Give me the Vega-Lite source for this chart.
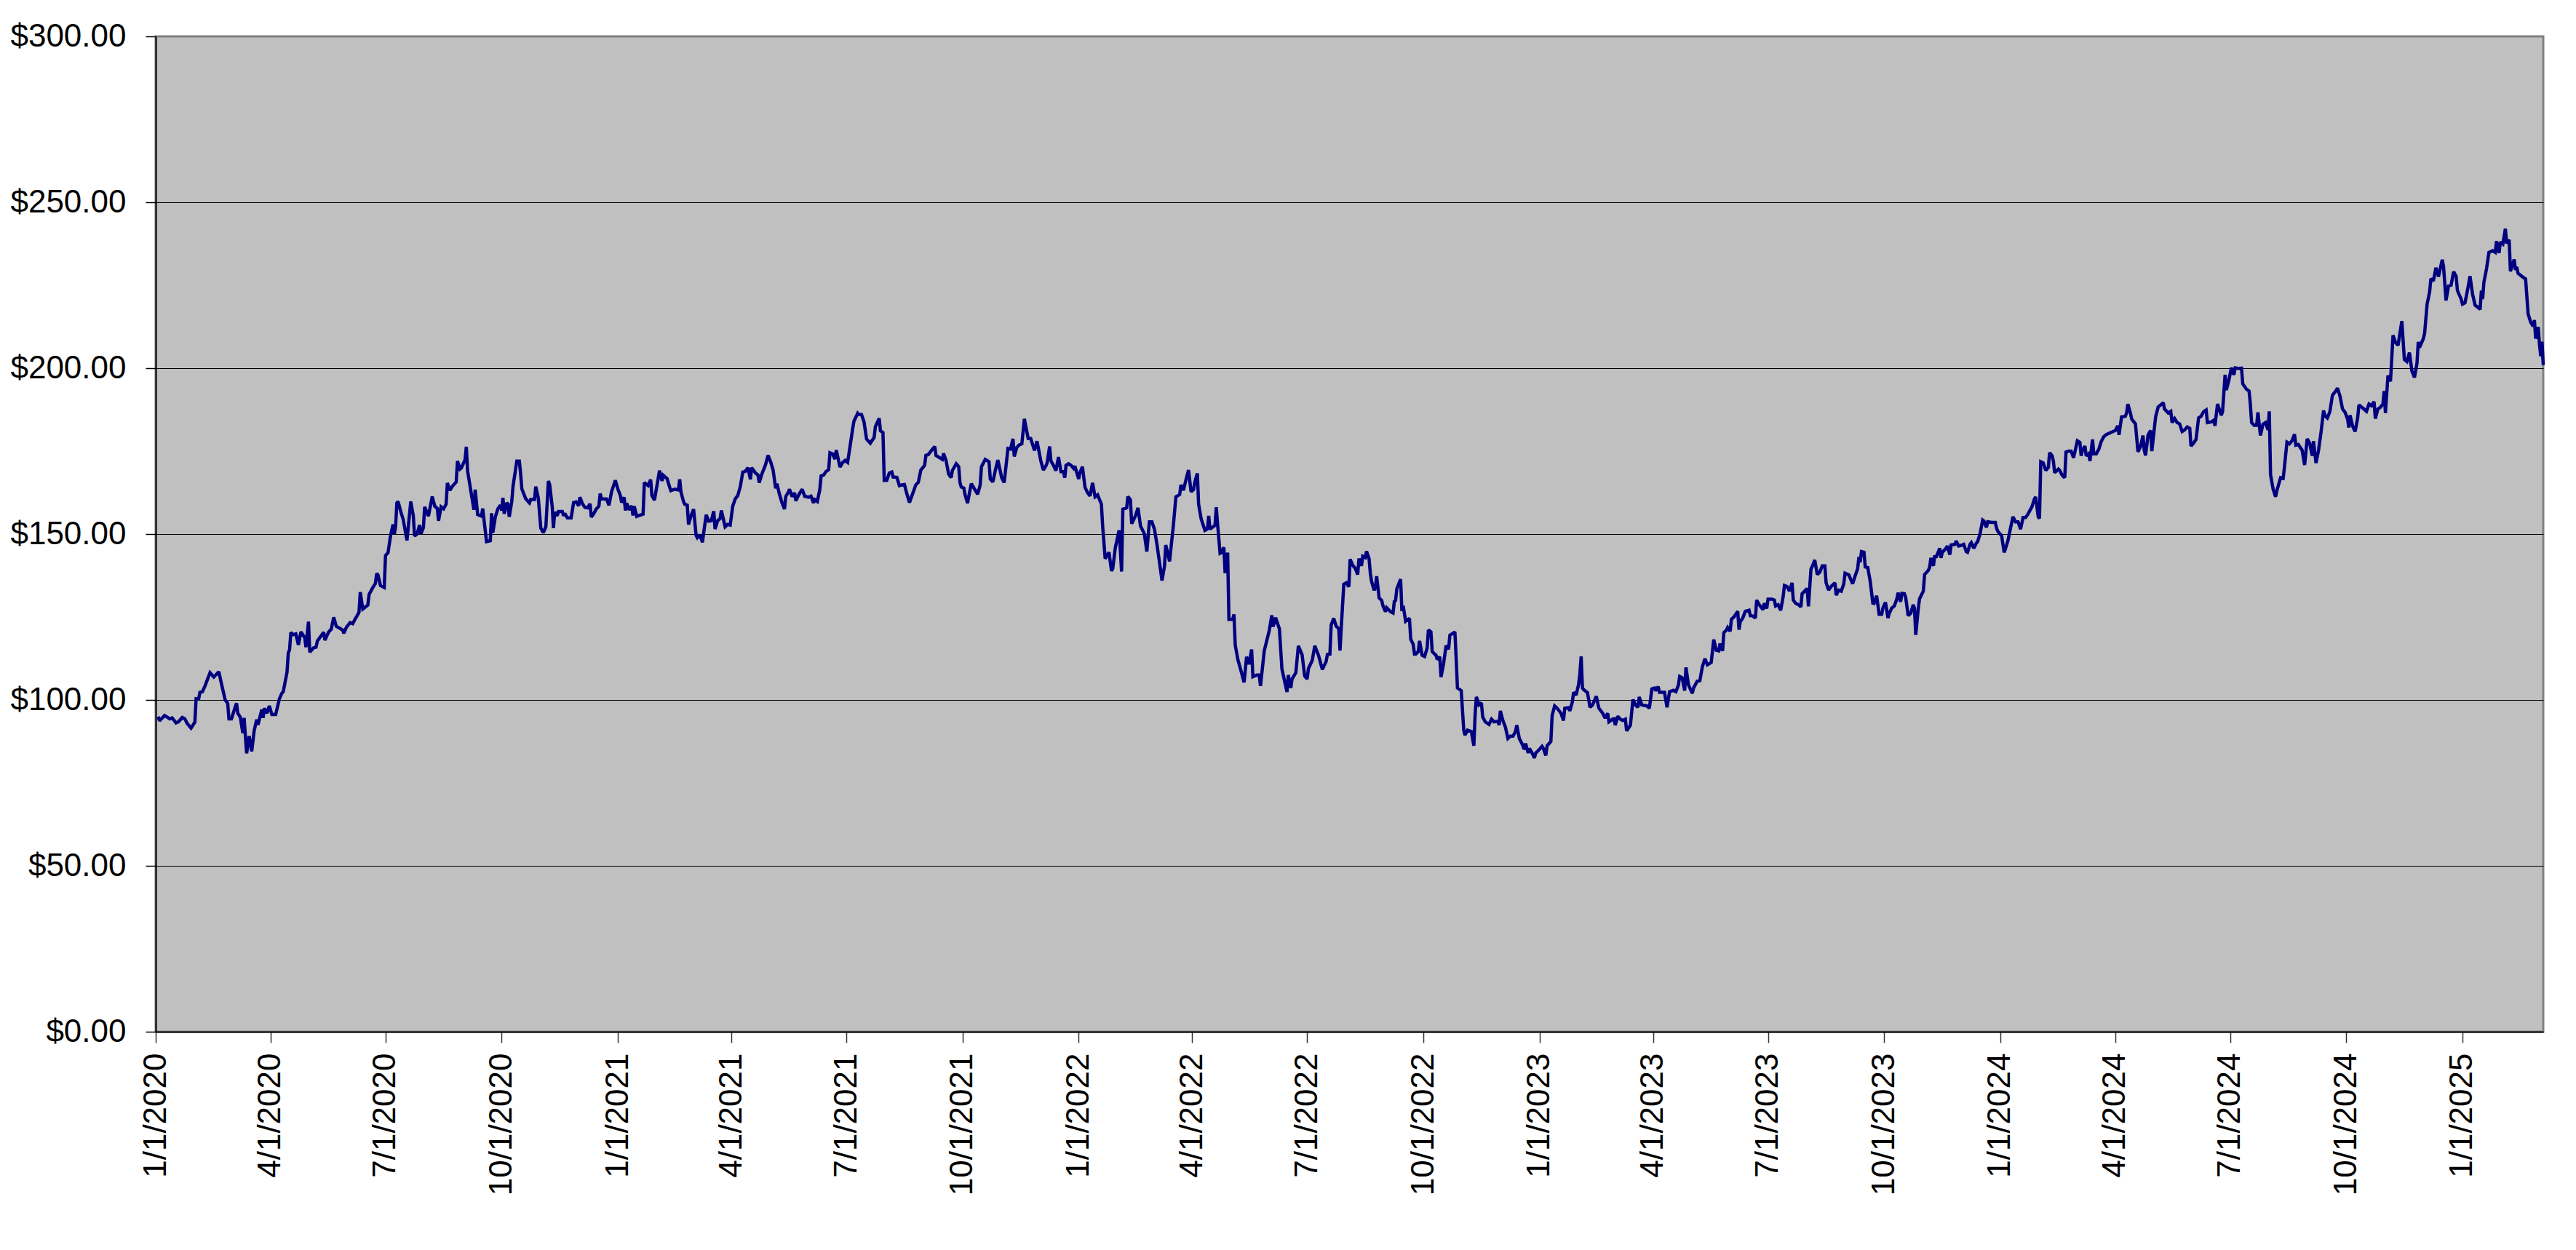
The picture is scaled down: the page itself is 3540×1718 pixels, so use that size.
{
"$schema": "https://vega.github.io/schema/vega-lite/v6.json",
"width": 3281, "height": 1368,
"autosize": {"type": "none"},
"padding": {"left": 214, "top": 50, "right": 45, "bottom": 300},
"background": "#ffffff",
"config": {"font": "Liberation Sans", "view": {"fill": "#C0C0C0", "stroke": "#808080", "strokeWidth": 3}},
"data": {"format": {"parse": {"d": "date:'%Y-%j'"}}, "values": [
{"d":"2020-003","p":95.0},{"d":"2020-004","p":93.7},{"d":"2020-008","p":95.3},{"d":"2020-011","p":94.6},{"d":"2020-012","p":94.3},{"d":"2020-014","p":94.6},{"d":"2020-016","p":93.6},{"d":"2020-017","p":93.1},{"d":"2020-019","p":93.4},{"d":"2020-022","p":94.7},{"d":"2020-024","p":94.3},{"d":"2020-026","p":92.9},{"d":"2020-029","p":91.5},{"d":"2020-032","p":93.3},{"d":"2020-033","p":100.4},{"d":"2020-035","p":100.3},{"d":"2020-036","p":102.3},{"d":"2020-038","p":102.5},{"d":"2020-040","p":104.2},{"d":"2020-044","p":108.2},{"d":"2020-047","p":106.9},{"d":"2020-051","p":108.5},{"d":"2020-053","p":105.0},{"d":"2020-056","p":100.0},{"d":"2020-058","p":99.0},{"d":"2020-059","p":94.3},{"d":"2020-061","p":94.3},{"d":"2020-064","p":97.9},{"d":"2020-065","p":99.0},{"d":"2020-066","p":96.0},{"d":"2020-068","p":94.8},{"d":"2020-070","p":90.0},{"d":"2020-071","p":94.6},{"d":"2020-073","p":83.9},{"d":"2020-075","p":89.1},{"d":"2020-077","p":84.5},{"d":"2020-079","p":90.8},{"d":"2020-081","p":94.1},{"d":"2020-082","p":92.5},{"d":"2020-085","p":97.1},{"d":"2020-086","p":94.6},{"d":"2020-087","p":97.5},{"d":"2020-089","p":96.0},{"d":"2020-091","p":98.2},{"d":"2020-093","p":95.6},{"d":"2020-096","p":95.6},{"d":"2020-099","p":100.4},{"d":"2020-101","p":102.1},{"d":"2020-102","p":102.5},{"d":"2020-105","p":108.4},{"d":"2020-106","p":114.2},{"d":"2020-107","p":115.1},{"d":"2020-108","p":120.3},{"d":"2020-110","p":119.7},{"d":"2020-112","p":119.9},{"d":"2020-114","p":116.6},{"d":"2020-116","p":120.5},{"d":"2020-119","p":118.8},{"d":"2020-120","p":115.9},{"d":"2020-122","p":123.6},{"d":"2020-123","p":114.4},{"d":"2020-126","p":115.7},{"d":"2020-128","p":115.9},{"d":"2020-129","p":117.7},{"d":"2020-134","p":120.4},{"d":"2020-135","p":118.0},{"d":"2020-137","p":119.7},{"d":"2020-138","p":120.5},{"d":"2020-140","p":121.3},{"d":"2020-142","p":124.9},{"d":"2020-144","p":122.2},{"d":"2020-149","p":121.1},{"d":"2020-150","p":120.1},{"d":"2020-152","p":121.9},{"d":"2020-155","p":123.3},{"d":"2020-157","p":123.0},{"d":"2020-159","p":124.4},{"d":"2020-162","p":126.4},{"d":"2020-163","p":132.5},{"d":"2020-165","p":127.4},{"d":"2020-169","p":128.6},{"d":"2020-170","p":131.8},{"d":"2020-173","p":133.9},{"d":"2020-175","p":135.1},{"d":"2020-176","p":138.1},{"d":"2020-177","p":137.7},{"d":"2020-179","p":134.5},{"d":"2020-182","p":133.9},{"d":"2020-183","p":143.5},{"d":"2020-185","p":144.4},{"d":"2020-187","p":149.5},{"d":"2020-189","p":152.9},{"d":"2020-190","p":150.0},{"d":"2020-191","p":152.3},{"d":"2020-192","p":159.4},{"d":"2020-193","p":159.8},{"d":"2020-195","p":156.9},{"d":"2020-197","p":154.4},{"d":"2020-200","p":148.1},{"d":"2020-203","p":159.8},{"d":"2020-205","p":155.6},{"d":"2020-206","p":149.4},{"d":"2020-208","p":150.0},{"d":"2020-210","p":152.7},{"d":"2020-211","p":150.0},{"d":"2020-213","p":151.9},{"d":"2020-214","p":158.2},{"d":"2020-217","p":155.4},{"d":"2020-220","p":161.3},{"d":"2020-222","p":158.4},{"d":"2020-224","p":157.7},{"d":"2020-225","p":154.0},{"d":"2020-227","p":158.2},{"d":"2020-229","p":157.6},{"d":"2020-231","p":159.0},{"d":"2020-232","p":165.4},{"d":"2020-234","p":163.2},{"d":"2020-236","p":164.4},{"d":"2020-239","p":165.7},{"d":"2020-240","p":172.0},{"d":"2020-242","p":169.6},{"d":"2020-243","p":169.9},{"d":"2020-246","p":172.4},{"d":"2020-247","p":176.3},{"d":"2020-248","p":169.0},{"d":"2020-250","p":164.4},{"d":"2020-253","p":157.3},{"d":"2020-254","p":163.4},{"d":"2020-256","p":155.9},{"d":"2020-259","p":155.4},{"d":"2020-260","p":157.7},{"d":"2020-263","p":147.7},{"d":"2020-266","p":148.0},{"d":"2020-267","p":156.3},{"d":"2020-268","p":150.4},{"d":"2020-270","p":155.2},{"d":"2020-272","p":157.6},{"d":"2020-274","p":158.7},{"d":"2020-275","p":157.1},{"d":"2020-276","p":160.9},{"d":"2020-277","p":156.1},{"d":"2020-279","p":159.4},{"d":"2020-280","p":159.0},{"d":"2020-281","p":155.2},{"d":"2020-283","p":159.8},{"d":"2020-284","p":164.4},{"d":"2020-287","p":172.0},{"d":"2020-289","p":172.0},{"d":"2020-290","p":168.2},{"d":"2020-291","p":163.6},{"d":"2020-294","p":160.7},{"d":"2020-297","p":159.4},{"d":"2020-298","p":160.4},{"d":"2020-301","p":160.4},{"d":"2020-302","p":164.3},
{"d":"2020-304","p":160.9},{"d":"2020-306","p":151.8},{"d":"2020-308","p":150.4},{"d":"2020-310","p":152.2},{"d":"2020-312","p":166.0},{"d":"2020-313","p":164.9},{"d":"2020-315","p":158.4},{"d":"2020-316","p":151.8},{"d":"2020-317","p":156.6},{"d":"2020-319","p":155.5},{"d":"2020-320","p":156.8},{"d":"2020-323","p":156.8},{"d":"2020-324","p":155.5},{"d":"2020-325","p":156.2},{"d":"2020-327","p":154.9},{"d":"2020-330","p":154.9},{"d":"2020-332","p":159.5},{"d":"2020-334","p":159.7},{"d":"2020-336","p":158.5},{"d":"2020-337","p":161.1},{"d":"2020-339","p":159.1},{"d":"2020-341","p":158.0},{"d":"2020-343","p":157.9},{"d":"2020-345","p":159.1},{"d":"2020-346","p":155.1},{"d":"2020-348","p":156.2},{"d":"2020-350","p":157.6},{"d":"2020-352","p":158.4},{"d":"2020-353","p":162.2},{"d":"2020-354","p":160.6},{"d":"2020-358","p":160.6},{"d":"2020-360","p":158.7},{"d":"2020-362","p":162.7},{"d":"2020-365","p":166.2},
{"d":"2021-001","p":163.6},{"d":"2021-003","p":161.6},{"d":"2021-004","p":159.5},{"d":"2021-006","p":161.1},{"d":"2021-007","p":157.1},{"d":"2021-008","p":159.3},{"d":"2021-010","p":157.3},{"d":"2021-012","p":158.5},{"d":"2021-013","p":155.6},{"d":"2021-014","p":158.4},{"d":"2021-016","p":155.3},{"d":"2021-018","p":155.6},{"d":"2021-021","p":156.0},{"d":"2021-022","p":165.5},{"d":"2021-025","p":164.6},{"d":"2021-027","p":166.4},{"d":"2021-028","p":161.6},{"d":"2021-030","p":160.2},{"d":"2021-032","p":164.6},{"d":"2021-034","p":169.1},{"d":"2021-036","p":166.0},{"d":"2021-037","p":167.7},{"d":"2021-040","p":166.7},{"d":"2021-042","p":164.2},{"d":"2021-043","p":163.1},{"d":"2021-046","p":163.5},{"d":"2021-049","p":163.3},{"d":"2021-050","p":166.5},{"d":"2021-051","p":162.7},{"d":"2021-053","p":159.8},{"d":"2021-054","p":159.0},{"d":"2021-056","p":158.7},{"d":"2021-057","p":152.9},{"d":"2021-059","p":155.5},{"d":"2021-061","p":157.5},{"d":"2021-063","p":149.6},{"d":"2021-064","p":148.9},{"d":"2021-066","p":149.8},{"d":"2021-068","p":147.5},{"d":"2021-070","p":153.1},{"d":"2021-071","p":155.8},{"d":"2021-073","p":153.9},{"d":"2021-075","p":154.0},{"d":"2021-077","p":156.9},{"d":"2021-078","p":151.5},{"d":"2021-080","p":154.0},{"d":"2021-082","p":154.7},{"d":"2021-083","p":157.1},{"d":"2021-086","p":152.2},{"d":"2021-088","p":152.9},{"d":"2021-090","p":152.7},{"d":"2021-092","p":158.4},{"d":"2021-094","p":160.6},{"d":"2021-096","p":161.6},{"d":"2021-098","p":164.3},{"d":"2021-100","p":168.7},{"d":"2021-102","p":168.9},{"d":"2021-104","p":170.0},{"d":"2021-106","p":166.5},{"d":"2021-107","p":170.0},{"d":"2021-110","p":168.4},{"d":"2021-112","p":167.8},{"d":"2021-113","p":165.5},{"d":"2021-115","p":168.0},{"d":"2021-118","p":170.9},{"d":"2021-120","p":173.7},{"d":"2021-122","p":171.8},{"d":"2021-124","p":169.3},{"d":"2021-126","p":163.8},{"d":"2021-127","p":165.2},{"d":"2021-129","p":162.0},{"d":"2021-131","p":159.5},{"d":"2021-133","p":157.5},{"d":"2021-134","p":161.3},{"d":"2021-136","p":162.6},{"d":"2021-137","p":163.5},{"d":"2021-139","p":161.3},{"d":"2021-141","p":162.4},{"d":"2021-142","p":160.0},{"d":"2021-144","p":161.6},{"d":"2021-146","p":162.9},{"d":"2021-147","p":163.5},{"d":"2021-149","p":161.4},{"d":"2021-152","p":161.1},{"d":"2021-154","p":161.4},{"d":"2021-156","p":159.4},{"d":"2021-157","p":160.4},{"d":"2021-159","p":159.8},{"d":"2021-161","p":163.5},{"d":"2021-162","p":167.5},{"d":"2021-164","p":167.8},{"d":"2021-166","p":168.9},{"d":"2021-168","p":169.4},{"d":"2021-169","p":174.5},{"d":"2021-171","p":174.2},{"d":"2021-173","p":172.6},{"d":"2021-174","p":175.3},{"d":"2021-177","p":170.2},{"d":"2021-179","p":171.5},{"d":"2021-181","p":172.2},{"d":"2021-183","p":171.6},{"d":"2021-185","p":176.6},{"d":"2021-187","p":181.7},{"d":"2021-188","p":184.0},{"d":"2021-191","p":186.4},{"d":"2021-192","p":186.0},{"d":"2021-194","p":186.0},{"d":"2021-196","p":183.8},{"d":"2021-198","p":178.6},{"d":"2021-201","p":177.4},{"d":"2021-204","p":179.1},{"d":"2021-205","p":182.4},{"d":"2021-208","p":184.9},{"d":"2021-209","p":181.1},{"d":"2021-211","p":180.6},{"d":"2021-212","p":166.2},{"d":"2021-214","p":166.2},{"d":"2021-216","p":168.4},{"d":"2021-218","p":168.7},{"d":"2021-219","p":167.2},{"d":"2021-222","p":167.1},{"d":"2021-224","p":164.6},{"d":"2021-226","p":164.8},{"d":"2021-228","p":164.9},{"d":"2021-230","p":162.0},{"d":"2021-232","p":159.5},{"d":"2021-234","p":161.6},{"d":"2021-237","p":164.8},{"d":"2021-239","p":165.6},{"d":"2021-241","p":169.3},{"d":"2021-244","p":170.7},{"d":"2021-245","p":173.7},{"d":"2021-247","p":174.0},
{"d":"2021-249","p":175.0},{"d":"2021-252","p":176.4},{"d":"2021-253","p":173.7},{"d":"2021-255","p":173.2},{"d":"2021-258","p":172.5},{"d":"2021-259","p":174.3},{"d":"2021-261","p":172.1},{"d":"2021-263","p":168.1},{"d":"2021-265","p":167.0},{"d":"2021-266","p":169.2},{"d":"2021-269","p":171.2},{"d":"2021-271","p":170.3},{"d":"2021-272","p":165.5},{"d":"2021-273","p":164.2},{"d":"2021-275","p":163.9},{"d":"2021-276","p":161.9},{"d":"2021-278","p":159.3},{"d":"2021-280","p":163.4},{"d":"2021-281","p":165.2},{"d":"2021-283","p":163.9},{"d":"2021-286","p":162.0},{"d":"2021-287","p":163.4},{"d":"2021-288","p":164.8},{"d":"2021-289","p":170.3},{"d":"2021-292","p":172.5},{"d":"2021-295","p":171.8},{"d":"2021-296","p":166.6},{"d":"2021-298","p":165.7},{"d":"2021-300","p":169.2},{"d":"2021-302","p":172.3},{"d":"2021-304","p":168.8},{"d":"2021-305","p":167.0},{"d":"2021-307","p":165.5},{"d":"2021-310","p":175.8},{"d":"2021-312","p":175.6},{"d":"2021-314","p":178.7},{"d":"2021-315","p":173.4},{"d":"2021-317","p":176.1},{"d":"2021-319","p":176.9},{"d":"2021-321","p":177.2},{"d":"2021-323","p":184.7},{"d":"2021-324","p":182.7},{"d":"2021-326","p":178.8},{"d":"2021-328","p":178.8},{"d":"2021-331","p":175.2},{"d":"2021-333","p":178.0},{"d":"2021-336","p":172.1},{"d":"2021-338","p":169.3},{"d":"2021-340","p":170.5},{"d":"2021-341","p":171.4},{"d":"2021-343","p":176.4},{"d":"2021-344","p":172.1},{"d":"2021-346","p":170.7},{"d":"2021-348","p":169.1},{"d":"2021-350","p":173.2},{"d":"2021-352","p":168.8},{"d":"2021-354","p":168.8},{"d":"2021-355","p":167.0},{"d":"2021-356","p":170.7},{"d":"2021-358","p":171.2},{"d":"2021-360","p":170.7},{"d":"2021-362","p":169.8},{"d":"2021-363","p":170.5},
{"d":"2022-001","p":166.6},{"d":"2022-002","p":168.5},{"d":"2022-004","p":170.3},{"d":"2022-006","p":164.1},{"d":"2022-008","p":162.5},{"d":"2022-010","p":161.5},{"d":"2022-012","p":165.4},{"d":"2022-014","p":161.2},{"d":"2022-016","p":161.8},{"d":"2022-019","p":159.0},{"d":"2022-020","p":152.4},{"d":"2022-022","p":142.6},{"d":"2022-025","p":144.5},{"d":"2022-027","p":138.9},{"d":"2022-028","p":139.6},{"d":"2022-030","p":145.8},{"d":"2022-033","p":151.1},{"d":"2022-034","p":145.1},{"d":"2022-035","p":138.7},{"d":"2022-036","p":157.5},{"d":"2022-039","p":157.9},{"d":"2022-040","p":161.3},{"d":"2022-042","p":160.3},{"d":"2022-043","p":153.1},{"d":"2022-046","p":155.5},{"d":"2022-048","p":157.9},{"d":"2022-050","p":152.4},{"d":"2022-052","p":150.9},{"d":"2022-053","p":150.1},{"d":"2022-055","p":144.7},{"d":"2022-057","p":153.7},{"d":"2022-059","p":153.7},{"d":"2022-061","p":151.5},{"d":"2022-063","p":146.9},{"d":"2022-065","p":141.5},{"d":"2022-067","p":136.0},{"d":"2022-069","p":140.4},{"d":"2022-070","p":146.7},{"d":"2022-073","p":141.8},{"d":"2022-076","p":152.6},{"d":"2022-078","p":161.2},{"d":"2022-081","p":161.9},{"d":"2022-082","p":164.8},{"d":"2022-084","p":163.2},{"d":"2022-086","p":166.4},{"d":"2022-088","p":169.3},{"d":"2022-090","p":162.8},{"d":"2022-092","p":163.4},{"d":"2022-093","p":165.7},{"d":"2022-095","p":168.3},{"d":"2022-096","p":159.0},{"d":"2022-098","p":154.6},{"d":"2022-101","p":151.1},{"d":"2022-103","p":151.5},{"d":"2022-104","p":155.5},{"d":"2022-105","p":151.5},{"d":"2022-109","p":152.6},{"d":"2022-110","p":158.1},{"d":"2022-111","p":153.1},{"d":"2022-113","p":144.2},{"d":"2022-114","p":144.4},{"d":"2022-116","p":146.0},{"d":"2022-117","p":138.2},{"d":"2022-119","p":144.4},{"d":"2022-120","p":124.3},{"d":"2022-123","p":124.3},{"d":"2022-124","p":125.8},{"d":"2022-125","p":116.6},{"d":"2022-127","p":112.3},{"d":"2022-130","p":108.2},{"d":"2022-132","p":105.3},{"d":"2022-134","p":113.0},{"d":"2022-136","p":110.8},{"d":"2022-138","p":115.2},{"d":"2022-139","p":107.0},{"d":"2022-142","p":107.5},{"d":"2022-144","p":107.5},{"d":"2022-145","p":104.2},{"d":"2022-148","p":114.8},{"d":"2022-152","p":121.0},{"d":"2022-154","p":125.5},{"d":"2022-155","p":122.1},{"d":"2022-157","p":124.8},{"d":"2022-160","p":121.4},{"d":"2022-162","p":109.3},{"d":"2022-166","p":102.4},{"d":"2022-167","p":107.5},{"d":"2022-169","p":103.6},{"d":"2022-170","p":106.3},{"d":"2022-173","p":108.2},{"d":"2022-175","p":116.3},{"d":"2022-178","p":113.6},{"d":"2022-180","p":107.2},{"d":"2022-182","p":106.3},{"d":"2022-183","p":109.5},{"d":"2022-186","p":111.9},{"d":"2022-188","p":116.3},{"d":"2022-191","p":113.4},{"d":"2022-194","p":109.2},
{"d":"2022-195","p":110.0},{"d":"2022-197","p":111.6},{"d":"2022-198","p":113.7},{"d":"2022-200","p":113.8},{"d":"2022-201","p":122.6},{"d":"2022-203","p":124.6},{"d":"2022-205","p":122.2},{"d":"2022-207","p":121.5},{"d":"2022-208","p":114.9},{"d":"2022-209","p":122.0},{"d":"2022-211","p":134.9},{"d":"2022-213","p":135.3},{"d":"2022-215","p":134.1},{"d":"2022-216","p":142.4},{"d":"2022-218","p":140.6},{"d":"2022-220","p":139.7},{"d":"2022-222","p":137.8},{"d":"2022-223","p":142.6},{"d":"2022-225","p":140.4},{"d":"2022-226","p":143.3},{"d":"2022-228","p":142.9},{"d":"2022-229","p":144.8},{"d":"2022-231","p":142.6},{"d":"2022-232","p":138.2},{"d":"2022-233","p":135.7},{"d":"2022-235","p":133.1},{"d":"2022-236","p":133.8},{"d":"2022-237","p":137.3},{"d":"2022-239","p":130.7},{"d":"2022-241","p":130.0},{"d":"2022-242","p":128.4},{"d":"2022-244","p":126.6},{"d":"2022-245","p":127.8},{"d":"2022-248","p":126.6},{"d":"2022-250","p":126.2},{"d":"2022-251","p":129.7},{"d":"2022-252","p":130.0},{"d":"2022-253","p":133.5},{"d":"2022-256","p":136.4},{"d":"2022-257","p":126.8},{"d":"2022-258","p":128.4},{"d":"2022-260","p":123.7},{"d":"2022-263","p":124.6},{"d":"2022-264","p":118.3},{"d":"2022-266","p":116.7},{"d":"2022-267","p":113.8},{"d":"2022-268","p":113.8},{"d":"2022-270","p":114.6},{"d":"2022-271","p":117.8},{"d":"2022-273","p":113.5},{"d":"2022-275","p":113.1},{"d":"2022-277","p":115.6},{"d":"2022-278","p":121.1},{"d":"2022-280","p":120.5},{"d":"2022-281","p":114.6},{"d":"2022-283","p":113.8},{"d":"2022-284","p":113.5},{"d":"2022-285","p":112.2},{"d":"2022-287","p":113.0},{"d":"2022-288","p":106.9},{"d":"2022-290","p":110.9},{"d":"2022-292","p":116.4},{"d":"2022-294","p":115.3},{"d":"2022-295","p":119.5},{"d":"2022-297","p":120.0},{"d":"2022-299","p":120.5},{"d":"2022-300","p":112.4},{"d":"2022-301","p":103.6},{"d":"2022-304","p":102.8},{"d":"2022-306","p":90.9},{"d":"2022-307","p":89.4},{"d":"2022-309","p":90.9},{"d":"2022-312","p":90.5},{"d":"2022-314","p":86.2},{"d":"2022-315","p":95.6},{"d":"2022-316","p":100.9},{"d":"2022-317","p":99.9},{"d":"2022-318","p":98.5},{"d":"2022-320","p":99.1},{"d":"2022-321","p":94.9},{"d":"2022-323","p":93.4},{"d":"2022-326","p":92.6},{"d":"2022-328","p":94.2},{"d":"2022-330","p":93.4},{"d":"2022-333","p":93.6},{"d":"2022-334","p":92.4},{"d":"2022-335","p":96.7},{"d":"2022-337","p":93.8},{"d":"2022-339","p":91.8},{"d":"2022-341","p":88.4},{"d":"2022-343","p":89.1},{"d":"2022-345","p":89.1},{"d":"2022-347","p":90.5},{"d":"2022-348","p":92.4},{"d":"2022-350","p":88.4},{"d":"2022-352","p":86.9},{"d":"2022-354","p":85.1},{"d":"2022-355","p":86.9},{"d":"2022-357","p":84.0},{"d":"2022-358","p":85.4},{"d":"2022-360","p":84.1},{"d":"2022-362","p":82.5},{"d":"2022-363","p":84.0},{"d":"2022-365","p":84.7},
{"d":"2023-003","p":86.0},{"d":"2023-004","p":85.4},{"d":"2023-006","p":83.3},{"d":"2023-007","p":86.2},{"d":"2023-010","p":87.5},{"d":"2023-011","p":95.3},{"d":"2023-013","p":98.2},{"d":"2023-015","p":97.5},{"d":"2023-018","p":96.0},{"d":"2023-020","p":93.8},{"d":"2023-021","p":97.5},{"d":"2023-024","p":97.7},{"d":"2023-025","p":96.7},{"d":"2023-027","p":99.4},{"d":"2023-028","p":102.3},{"d":"2023-030","p":101.5},{"d":"2023-032","p":104.7},{"d":"2023-033","p":108.0},{"d":"2023-034","p":113.1},{"d":"2023-035","p":103.6},{"d":"2023-036","p":103.1},{"d":"2023-039","p":102.2},{"d":"2023-041","p":97.8},{"d":"2023-043","p":98.5},{"d":"2023-046","p":101.1},{"d":"2023-048","p":97.5},{"d":"2023-051","p":96.0},{"d":"2023-053","p":94.5},{"d":"2023-055","p":96.0},{"d":"2023-056","p":93.4},{"d":"2023-059","p":94.2},{"d":"2023-060","p":94.3},{"d":"2023-061","p":92.4},{"d":"2023-063","p":95.1},{"d":"2023-065","p":94.2},{"d":"2023-067","p":93.8},{"d":"2023-069","p":94.2},{"d":"2023-070","p":90.7},{"d":"2023-073","p":92.4},{"d":"2023-075","p":100.1},{"d":"2023-077","p":98.5},{"d":"2023-079","p":97.8},{"d":"2023-080","p":100.9},{"d":"2023-082","p":98.5},{"d":"2023-086","p":98.2},{"d":"2023-088","p":97.5},{"d":"2023-090","p":103.3},{"d":"2023-092","p":103.6},{"d":"2023-093","p":102.8},{"d":"2023-095","p":104.0},{"d":"2023-096","p":102.3},{"d":"2023-098","p":102.3},{"d":"2023-100","p":102.3},{"d":"2023-102","p":97.8},{"d":"2023-104","p":102.5},{"d":"2023-107","p":102.9},{"d":"2023-109","p":102.5},{"d":"2023-111","p":104.4},{"d":"2023-112","p":107.1},{"d":"2023-114","p":106.7},{"d":"2023-116","p":102.8},{"d":"2023-117","p":109.8},{"d":"2023-119","p":104.5},{"d":"2023-122","p":102.0},{"d":"2023-123","p":103.6},{"d":"2023-126","p":105.7},{"d":"2023-128","p":105.8},{"d":"2023-130","p":110.0},{"d":"2023-132","p":112.4},{"d":"2023-134","p":110.6},{"d":"2023-137","p":111.3},{"d":"2023-139","p":118.2},
{"d":"2023-141","p":115.0},{"d":"2023-143","p":114.8},{"d":"2023-144","p":117.0},{"d":"2023-146","p":114.8},{"d":"2023-147","p":120.3},{"d":"2023-149","p":121.0},{"d":"2023-150","p":121.8},{"d":"2023-152","p":120.7},{"d":"2023-153","p":124.3},{"d":"2023-155","p":125.0},{"d":"2023-158","p":126.7},{"d":"2023-159","p":121.2},{"d":"2023-160","p":123.6},{"d":"2023-162","p":124.7},{"d":"2023-164","p":126.7},{"d":"2023-167","p":127.0},{"d":"2023-168","p":125.4},{"d":"2023-170","p":125.3},{"d":"2023-172","p":124.7},{"d":"2023-173","p":130.1},{"d":"2023-175","p":128.7},{"d":"2023-178","p":127.2},{"d":"2023-179","p":129.1},{"d":"2023-181","p":127.6},{"d":"2023-182","p":130.4},{"d":"2023-185","p":130.4},{"d":"2023-187","p":130.1},{"d":"2023-188","p":128.3},{"d":"2023-190","p":128.7},{"d":"2023-192","p":127.0},{"d":"2023-194","p":131.2},{"d":"2023-195","p":134.5},{"d":"2023-197","p":134.2},{"d":"2023-199","p":132.8},{"d":"2023-201","p":135.3},{"d":"2023-202","p":130.1},{"d":"2023-204","p":129.1},{"d":"2023-207","p":128.5},{"d":"2023-208","p":128.0},{"d":"2023-209","p":132.0},{"d":"2023-213","p":133.6},{"d":"2023-214","p":128.2},{"d":"2023-216","p":139.4},{"d":"2023-218","p":141.1},{"d":"2023-219","p":142.2},{"d":"2023-221","p":137.8},{"d":"2023-223","p":138.5},{"d":"2023-225","p":140.4},{"d":"2023-227","p":140.4},{"d":"2023-228","p":135.3},{"d":"2023-230","p":133.1},{"d":"2023-232","p":134.2},{"d":"2023-235","p":135.3},{"d":"2023-236","p":131.6},{"d":"2023-238","p":133.1},{"d":"2023-240","p":132.8},{"d":"2023-242","p":135.0},{"d":"2023-243","p":138.2},{"d":"2023-246","p":137.7},{"d":"2023-249","p":135.0},{"d":"2023-251","p":137.4},{"d":"2023-253","p":139.6},{"d":"2023-254","p":143.1},{"d":"2023-255","p":141.5},{"d":"2023-256","p":144.7},{"d":"2023-258","p":144.5},{"d":"2023-259","p":140.1},{"d":"2023-261","p":139.9},{"d":"2023-263","p":135.6},{"d":"2023-265","p":129.2},{"d":"2023-266","p":129.1},{"d":"2023-268","p":131.4},{"d":"2023-270","p":125.8},{"d":"2023-272","p":125.8},{"d":"2023-273","p":127.7},{"d":"2023-275","p":129.4},{"d":"2023-277","p":124.7},{"d":"2023-278","p":126.1},{"d":"2023-280","p":127.7},{"d":"2023-282","p":128.3},{"d":"2023-284","p":130.4},{"d":"2023-285","p":132.3},{"d":"2023-287","p":129.6},{"d":"2023-288","p":132.1},{"d":"2023-290","p":132.0},{"d":"2023-291","p":130.9},{"d":"2023-292","p":128.2},{"d":"2023-293","p":125.4},{"d":"2023-295","p":126.1},{"d":"2023-297","p":128.7},{"d":"2023-298","p":127.6},{"d":"2023-299","p":119.6},{"d":"2023-301","p":127.6},{"d":"2023-302","p":130.5},{"d":"2023-305","p":132.8},{"d":"2023-306","p":137.8},{"d":"2023-309","p":139.1},{"d":"2023-310","p":140.0},{"d":"2023-311","p":142.8},{"d":"2023-313","p":140.4},{"d":"2023-314","p":143.5},{"d":"2023-315","p":142.9},{"d":"2023-318","p":145.7},{"d":"2023-319","p":142.8},{"d":"2023-320","p":144.5},{"d":"2023-323","p":145.7},{"d":"2023-324","p":146.4},{"d":"2023-326","p":143.8},{"d":"2023-327","p":146.7},{"d":"2023-330","p":146.9},{"d":"2023-331","p":147.9},{"d":"2023-333","p":146.4},{"d":"2023-335","p":146.6},{"d":"2023-337","p":146.9},{"d":"2023-339","p":144.7},{"d":"2023-340","p":144.5},{"d":"2023-342","p":146.9},{"d":"2023-343","p":147.4},{"d":"2023-345","p":145.7},{"d":"2023-347","p":147.3},{"d":"2023-348","p":147.7},{"d":"2023-350","p":150.2},{"d":"2023-352","p":154.2},{"d":"2023-353","p":153.9},{"d":"2023-355","p":152.0},{"d":"2023-356","p":153.7},{"d":"2023-359","p":153.5},{"d":"2023-362","p":153.5},{"d":"2023-363","p":151.8},{"d":"2023-364","p":150.8},
{"d":"2024-002","p":149.5},{"d":"2024-004","p":144.5},{"d":"2024-005","p":145.5},{"d":"2024-007","p":148.0},{"d":"2024-009","p":151.7},{"d":"2024-011","p":155.2},{"d":"2024-013","p":153.7},{"d":"2024-015","p":153.7},{"d":"2024-017","p":151.5},{"d":"2024-019","p":155.0},{"d":"2024-021","p":155.0},{"d":"2024-023","p":156.1},{"d":"2024-026","p":158.2},{"d":"2024-028","p":160.6},{"d":"2024-029","p":161.2},{"d":"2024-031","p":155.2},{"d":"2024-032","p":154.7},{"d":"2024-033","p":171.8},{"d":"2024-035","p":171.4},{"d":"2024-037","p":169.2},{"d":"2024-039","p":170.1},{"d":"2024-040","p":174.5},{"d":"2024-042","p":173.6},{"d":"2024-043","p":172.0},{"d":"2024-044","p":168.5},{"d":"2024-047","p":169.6},{"d":"2024-048","p":169.2},{"d":"2024-050","p":167.7},{"d":"2024-052","p":167.0},{"d":"2024-053","p":174.7},{"d":"2024-055","p":175.0},{"d":"2024-057","p":175.0},{"d":"2024-059","p":173.0},{"d":"2024-062","p":178.1},{"d":"2024-064","p":177.6},{"d":"2024-065","p":173.6},{"d":"2024-066","p":175.2},{"d":"2024-068","p":176.5},{"d":"2024-069","p":173.6},{"d":"2024-071","p":174.2},{"d":"2024-072","p":172.0},{"d":"2024-074","p":178.5},{"d":"2024-075","p":174.2},{"d":"2024-077","p":174.2},{"d":"2024-079","p":175.6},{"d":"2024-081","p":178.0},{"d":"2024-083","p":179.4},{"d":"2024-085","p":180.0},
{"d":"2024-089","p":180.7},{"d":"2024-092","p":181.2},{"d":"2024-094","p":182.6},{"d":"2024-095","p":179.9},{"d":"2024-097","p":185.3},{"d":"2024-100","p":185.5},{"d":"2024-101","p":186.5},{"d":"2024-102","p":189.2},{"d":"2024-104","p":186.5},{"d":"2024-105","p":184.7},{"d":"2024-108","p":183.2},{"d":"2024-110","p":174.8},{"d":"2024-112","p":176.3},{"d":"2024-114","p":179.7},{"d":"2024-115","p":175.2},{"d":"2024-116","p":173.7},{"d":"2024-118","p":179.9},{"d":"2024-120","p":181.2},{"d":"2024-121","p":175.0},{"d":"2024-124","p":185.4},{"d":"2024-126","p":188.3},{"d":"2024-128","p":188.9},{"d":"2024-130","p":189.6},{"d":"2024-131","p":187.7},{"d":"2024-134","p":186.5},{"d":"2024-136","p":187.0},{"d":"2024-137","p":183.6},{"d":"2024-139","p":184.8},{"d":"2024-141","p":183.6},{"d":"2024-143","p":183.2},{"d":"2024-145","p":180.9},{"d":"2024-147","p":181.4},{"d":"2024-149","p":182.3},{"d":"2024-151","p":181.9},{"d":"2024-152","p":176.5},{"d":"2024-154","p":177.4},{"d":"2024-156","p":178.5},{"d":"2024-158","p":185.0},{"d":"2024-160","p":185.5},{"d":"2024-162","p":186.9},{"d":"2024-164","p":187.4},{"d":"2024-165","p":183.6},{"d":"2024-168","p":183.8},{"d":"2024-170","p":184.3},{"d":"2024-171","p":182.6},{"d":"2024-173","p":189.2},{"d":"2024-176","p":185.8},{"d":"2024-177","p":186.9},{"d":"2024-179","p":198.0},{"d":"2024-180","p":193.4},{"d":"2024-182","p":196.4},{"d":"2024-184","p":200.1},{"d":"2024-186","p":198.0},{"d":"2024-187","p":200.1},{"d":"2024-190","p":199.9},{"d":"2024-192","p":200.0},{"d":"2024-193","p":195.3},{"d":"2024-196","p":193.6},{"d":"2024-198","p":193.1},{"d":"2024-199","p":189.2},{"d":"2024-200","p":183.6},{"d":"2024-202","p":182.8},{"d":"2024-204","p":182.8},{"d":"2024-205","p":186.7},{"d":"2024-207","p":179.7},{"d":"2024-209","p":183.1},{"d":"2024-211","p":183.6},{"d":"2024-213","p":181.4},{"d":"2024-214","p":187.0},{"d":"2024-215","p":167.9},{"d":"2024-217","p":163.6},{"d":"2024-219","p":161.2},{"d":"2024-220","p":163.1},{"d":"2024-223","p":167.0},{"d":"2024-225","p":166.8},{"d":"2024-226","p":170.2},{"d":"2024-228","p":177.7},{"d":"2024-230","p":177.2},{"d":"2024-232","p":178.1},{"d":"2024-234","p":180.1},{"d":"2024-235","p":176.8},{"d":"2024-237","p":177.0},{"d":"2024-240","p":175.3},{"d":"2024-242","p":170.8},{"d":"2024-244","p":178.7},{"d":"2024-246","p":177.4},{"d":"2024-248","p":173.6},{"d":"2024-249","p":178.0},{"d":"2024-251","p":171.4},{"d":"2024-253","p":175.2},{"d":"2024-255","p":180.7},{"d":"2024-257","p":187.2},{"d":"2024-258","p":185.8},{"d":"2024-260","p":185.0},{"d":"2024-262","p":186.9},{"d":"2024-264","p":191.8},{"d":"2024-267","p":193.3},{"d":"2024-268","p":194.0},{"d":"2024-270","p":191.6},{"d":"2024-272","p":187.7},{"d":"2024-274","p":186.7},{"d":"2024-276","p":184.7},{"d":"2024-277","p":182.1},{"d":"2024-278","p":185.8},{"d":"2024-280","p":182.5},{"d":"2024-282","p":180.9},{"d":"2024-284","p":185.0},{"d":"2024-285","p":188.9},{"d":"2024-288","p":188.0},{"d":"2024-291","p":187.0},{"d":"2024-293","p":189.2},{"d":"2024-295","p":188.7},{"d":"2024-297","p":189.9},{"d":"2024-298","p":184.8},{"d":"2024-300","p":187.7},{"d":"2024-302","p":188.2},{"d":"2024-304","p":189.2},{"d":"2024-305","p":193.1},{"d":"2024-306","p":186.5},{"d":"2024-308","p":197.8},{"d":"2024-310","p":196.0},{"d":"2024-312","p":209.9},{"d":"2024-314","p":207.7},{"d":"2024-316","p":206.9},{"d":"2024-319","p":214.2},{"d":"2024-321","p":202.6},{"d":"2024-323","p":202.0},{"d":"2024-325","p":204.7},{"d":"2024-327","p":199.1},{"d":"2024-329","p":197.2},{"d":"2024-331","p":201.5},{"d":"2024-332","p":207.9},{"d":"2024-333","p":206.2},{"d":"2024-336","p":208.9},{"d":"2024-337","p":210.4},{"d":"2024-339","p":219.3},{"d":"2024-341","p":223.0},{"d":"2024-342","p":227.0},{"d":"2024-344","p":226.3},{"d":"2024-346","p":230.3},{"d":"2024-348","p":227.6},{"d":"2024-351","p":232.7},{"d":"2024-352","p":230.7},{"d":"2024-354","p":220.4},{"d":"2024-356","p":224.8},{"d":"2024-358","p":225.0},{"d":"2024-360","p":229.1},{"d":"2024-362","p":227.7},{"d":"2024-363","p":223.4},{"d":"2024-366","p":220.8},
{"d":"2025-001","p":219.3},{"d":"2025-003","p":219.7},{"d":"2025-005","p":223.5},{"d":"2025-007","p":227.7},{"d":"2025-009","p":222.3},{"d":"2025-011","p":219.0},{"d":"2025-014","p":218.1},{"d":"2025-015","p":217.7},{"d":"2025-016","p":223.4},{"d":"2025-017","p":220.8},{"d":"2025-018","p":225.9},{"d":"2025-020","p":229.8},{"d":"2025-022","p":234.9},{"d":"2025-025","p":235.4},{"d":"2025-027","p":234.9},{"d":"2025-028","p":238.3},{"d":"2025-030","p":234.7},{"d":"2025-031","p":238.0},{"d":"2025-033","p":237.4},{"d":"2025-035","p":242.0},{"d":"2025-036","p":237.6},{"d":"2025-038","p":238.7},{"d":"2025-039","p":229.2},{"d":"2025-042","p":232.8},{"d":"2025-043","p":229.6},{"d":"2025-044","p":230.5},{"d":"2025-045","p":228.6},{"d":"2025-049","p":227.4},{"d":"2025-051","p":226.9},{"d":"2025-053","p":216.4},{"d":"2025-055","p":213.9},{"d":"2025-057","p":212.6},{"d":"2025-058","p":214.5},{"d":"2025-059","p":208.9},{"d":"2025-061","p":212.4},{"d":"2025-062","p":207.3},{"d":"2025-063","p":203.6},{"d":"2025-064","p":208.0},{"d":"2025-065","p":200.9}
]},
"mark": {"type": "line", "color": "#000080", "strokeWidth": 4.5, "strokeJoin": "miter", "strokeMiterLimit": 2},
"encoding": {
  "x": {"field": "d", "type": "temporal",
    "scale": {"domain": [{"year": 2020, "month": 1, "date": 1}, {"year": 2025, "month": 3, "date": 6}]},
    "axis": {"title": null, "format": "%-m/%-d/%Y", "tickCount": {"interval": "month", "step": 3}, "labelAngle": -90,
      "labelFontSize": 44, "labelColor": "#000000", "labelPadding": 14, "labelLimit": 600, "tickSize": 15, "tickColor": "#333333", "tickWidth": 1.5,
      "domainColor": "#000000", "domainWidth": 2, "grid": false, "labelFlush": false, "labelOverlap": false, "labelBound": false}},
  "y": {"field": "p", "type": "quantitative",
    "scale": {"domain": [0, 300], "nice": false, "zero": true},
    "axis": {"title": null, "values": [0, 50, 100, 150, 200, 250, 300], "format": "$,.2f",
      "labelFontSize": 44, "labelColor": "#000000", "labelPadding": 27, "labelLimit": 600, "tickSize": 14, "tickColor": "#000000", "tickWidth": 1.5,
      "domainColor": "#000000", "domainWidth": 2, "grid": true,
      "gridColor": {"condition": {"test": "datum.value === 300", "value": "#808080"}, "value": "#000000"},
      "gridWidth": 1.2, "labelFlush": false}}
}
}
